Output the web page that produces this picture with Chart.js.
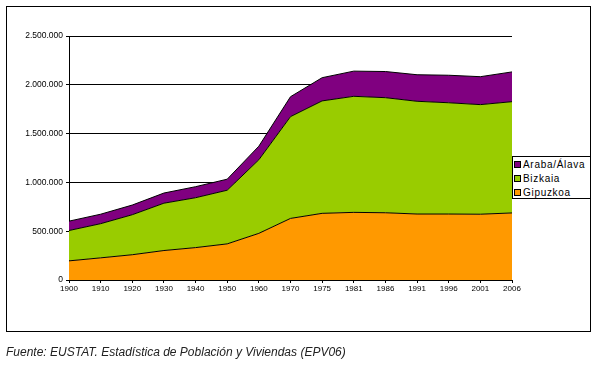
<!DOCTYPE html>
<html>
<head>
<meta charset="utf-8">
<script src="https://cdn.jsdelivr.net/npm/chart.js@4.4.1/dist/chart.umd.min.js"></script>
<style>
  body { margin: 0; background: #fff; }
  #wrap { position: relative; width: 598px; height: 368px; }
  #frame { position: absolute; left: 6px; top: 6px; width: 585px; height: 326px; box-sizing: border-box; border: 1px solid #000; pointer-events: none; }
  #chart { position: absolute; left: 0; top: 0; }
  #legend { position: absolute; left: 512px; top: 156px; width: 79px; height: 43px; box-sizing: border-box; border: 1px solid #000; background: #fff; font: 10px "Liberation Sans", Arial, sans-serif; letter-spacing: 0.7px; padding-top: 1px; }
  #legend div { height: 14px; line-height: 14px; white-space: nowrap; }
  #legend span { display: inline-block; width: 5px; height: 5px; border: 1px solid #000; margin: 0 2px 0 1px; vertical-align: 0px; }
  #caption { position: absolute; left: 6px; top: 345px; font: italic 12px "Liberation Sans", Arial, sans-serif; color: #222; white-space: nowrap; }
</style>
</head>
<body>
<div id="wrap">
  <canvas id="chart" width="598" height="368"></canvas>
  <div id="frame"></div>
  <div id="legend"></div>
  <div id="caption">Fuente: EUSTAT. Estadística de Población y Viviendas (EPV06)</div>
</div>
<script>
const years = ['1900', '1910', '1920', '1930', '1940', '1950', '1960', '1970', '1975', '1981', '1986', '1991', '1996', '2001', '2006'];
const gipuzkoa = [196000, 227000, 259000, 302000, 332000, 370000, 478000, 631000, 683000, 693000, 689000, 676000, 676000, 674000, 687000];
const bizkaia = [311000, 350000, 410000, 485000, 511000, 550000, 754000, 1043000, 1152000, 1189000, 1179000, 1155000, 1140000, 1123000, 1140000];
const araba = [96000, 97000, 99000, 104000, 113000, 113000, 139000, 204000, 238000, 258000, 268000, 272000, 282000, 286000, 305000];
const yTicks = [0, 500000, 1000000, 1500000, 2000000, 2500000];

const series = [
  { label: 'Gipuzkoa', data: gipuzkoa, color: '#FF9900' },
  { label: 'Bizkaia', data: bizkaia, color: '#99CC00' },
  { label: 'Araba/Álava', data: araba, color: '#800080' }
];

function fmt(v) {
  return String(v).replace(/\B(?=(\d{3})+(?!\d))/g, '.');
}

const tickFont = { family: '"Liberation Sans", Arial, sans-serif', size: 8.5 };

new Chart(document.getElementById('chart'), {
  type: 'line',
  data: {
    labels: years,
    datasets: series.map((s, i) => ({
      label: s.label,
      data: s.data,
      backgroundColor: s.color,
      borderColor: '#000',
      borderWidth: 1,
      pointRadius: 0,
      tension: 0,
      fill: i === 0 ? 'origin' : '-1'
    }))
  },
  options: {
    responsive: false,
    devicePixelRatio: 1,
    animation: false,
    layout: { padding: { left: 0, right: 86, top: 36, bottom: 68 } },
    plugins: { legend: { display: false }, tooltip: { enabled: false } },
    scales: {
      x: {
        offset: false,
        grid: { drawOnChartArea: false, drawTicks: true, tickLength: 3, color: '#000' },
        border: { display: true, color: '#000' },
        ticks: { color: '#000', font: { ...tickFont, size: 8 }, maxRotation: 0, autoSkip: false, padding: 1 },
        afterFit: s => { s.height = 20; }
      },
      y: {
        stacked: true,
        min: 0,
        max: 2500000,
        afterBuildTicks: s => { s.ticks = yTicks.map(v => ({ value: v })); },
        grid: { color: '#000', tickLength: 3 },
        border: { display: true, color: '#000' },
        ticks: { color: '#000', font: tickFont, padding: 3, callback: v => fmt(v) },
        afterFit: s => { s.width = 69; }
      }
    }
  }
});

const legend = document.getElementById('legend');
series.slice().reverse().forEach(s => {
  const row = document.createElement('div');
  row.innerHTML = '<span style="background:' + s.color + '"></span>' + s.label;
  legend.appendChild(row);
});
</script>
</body>
</html>
